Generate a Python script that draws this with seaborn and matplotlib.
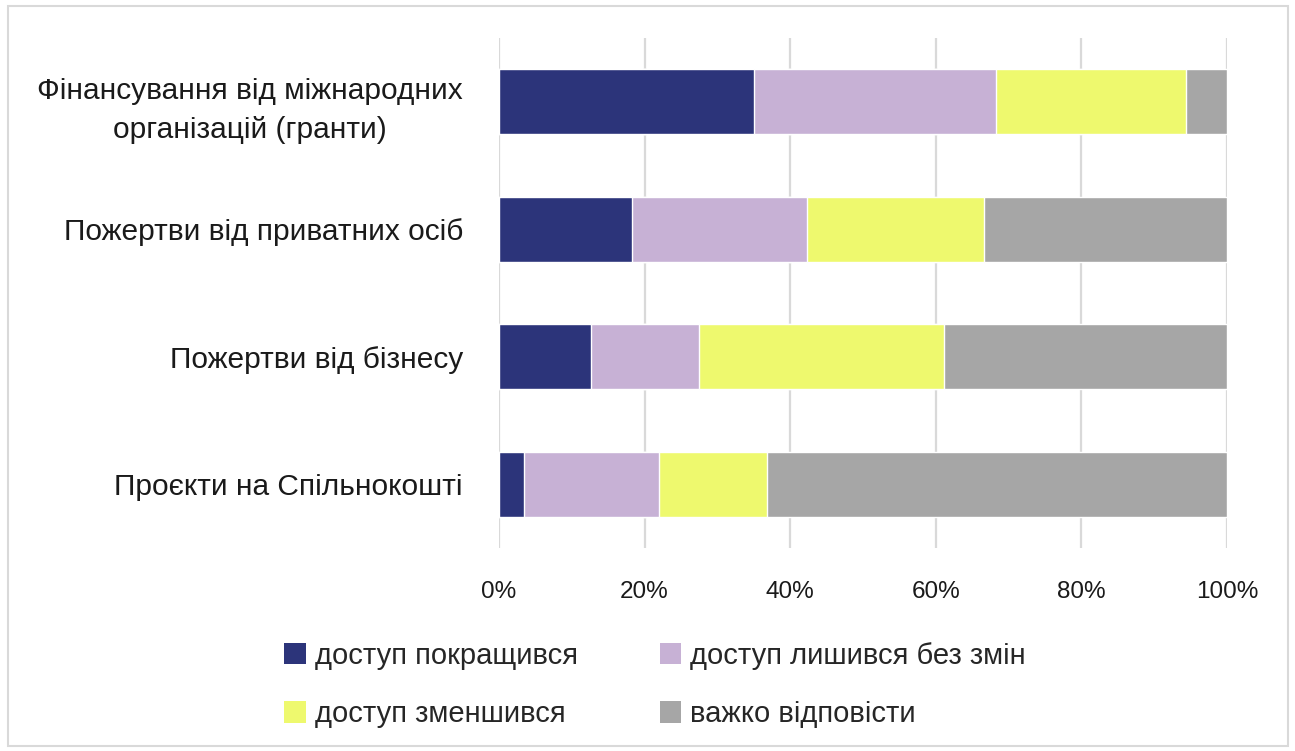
import matplotlib
matplotlib.use("Agg")
from matplotlib import pyplot as plt
from matplotlib.patches import Patch, Rectangle
import seaborn as sns
import pandas as pd
import numpy as np

categories = [
    "Фінансування від міжнародних\nорганізацій (гранти)",
    "Пожертви від приватних осіб",
    "Пожертви від бізнесу",
    "Проєкти на Спільнокошті",
]
series_names = [
    "доступ покращився",
    "доступ лишився без змін",
    "доступ зменшився",
    "важко відповісти",
]
improved = [35.0, 18.3, 12.6, 3.4]
unchanged = [33.3, 24.0, 14.9, 18.6]
decreased = [26.1, 24.3, 33.6, 14.8]
hard_to_say = [5.6, 33.4, 38.9, 63.2]
colors = ["#2c347a", "#c7b1d5", "#eef96e", "#a6a6a6"]

sns.set_theme(style="white")
plt.rcParams["font.family"] = ["Liberation Sans", "DejaVu Sans"]

df = pd.DataFrame({"category": categories})
values = [improved, unchanged, decreased, hard_to_say]
cum = np.cumsum(np.array(values), axis=0)

fig = plt.figure(figsize=(12.95, 7.51), dpi=100)
ax = fig.add_axes([499 / 1295, 1 - 548 / 751, (1227 - 499) / 1295, (548 - 38) / 751])

# draw from the full stack down so each layer covers the previous one
for i in range(len(series_names) - 1, -1, -1):
    df["val"] = cum[i]
    sns.barplot(data=df, x="val", y="category", color=colors[i],
                width=0.51, saturation=1, ax=ax, orient="h")

ax.set_xlim(0, 100)
ax.set_xticks(range(0, 101, 20))
ax.set_xticklabels([f"{t}%" for t in range(0, 101, 20)])
ax.set_xlabel("")
ax.set_ylabel("")
ax.grid(axis="x", color="#d9d9d9", linewidth=1.6)
ax.set_axisbelow(True)
for s in ax.spines.values():
    s.set_visible(False)
ax.tick_params(axis="x", labelsize=17.5, pad=24, length=0, colors="#1a1a1a")
ax.tick_params(axis="y", labelsize=21.5, pad=26, length=0, colors="#1a1a1a")
for lbl in ax.get_yticklabels():
    lbl.set_horizontalalignment("right")
    lbl.set_multialignment("center")
    lbl.set_linespacing(1.5)

# legend fills column by column, so reorder to get the reference row order
order = [0, 2, 1, 3]
handles = [Patch(facecolor=colors[i], edgecolor="none") for i in order]
labels = [series_names[i] for i in order]
fig.legend(handles, labels, loc="center", ncol=2,
           bbox_to_anchor=(655 / 1295, 1 - 685 / 751), frameon=False, fontsize=21,
           handlelength=0.75, handleheight=0.75, handletextpad=0.3,
           columnspacing=2.8, labelspacing=1.05)

fig.patches.append(Rectangle((8 / 1295, 5 / 751), 1280 / 1295, 740 / 751,
                             transform=fig.transFigure, fill=False,
                             edgecolor="#d9d9d9", linewidth=1.5))

fig.savefig("out.png", dpi=100)
